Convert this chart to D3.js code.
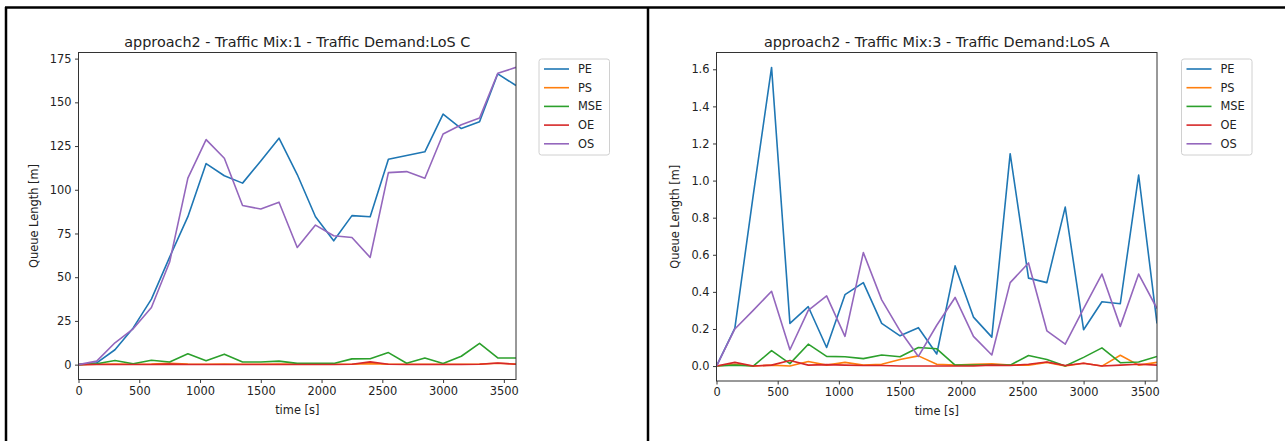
<!DOCTYPE html>
<html><head><meta charset="utf-8">
<script src="https://cdn.jsdelivr.net/npm/d3@7"></script>
<style>
html,body{margin:0;padding:0;background:#fff;}
svg{display:block;font-family:"DejaVu Sans",sans-serif;}
</style></head>
<body>
<svg id="chart" width="1287" height="441"></svg>
<script>
const times = [0,150,300,450,600,750,900,1050,1200,1350,1500,1650,1800,1950,2100,2250,2400,2550,2700,2850,3000,3150,3300,3450,3600];
const seriesNames = ["PE","PS","MSE","OE","OS"];
const seriesColors = ["#1f77b4","#ff7f0e","#2ca02c","#d62728","#9467bd"];

// Chart 1: Traffic Mix 1, LoS C
const title1 = "approach2 - Traffic Mix:1 - Traffic Demand:LoS C";
const pe1  = [0,1,8.5,21,37.5,61.5,84.6,115,108,103.8,116.5,129.5,108.7,84.6,70.8,85.2,84.6,117.5,119.6,121.7,143.3,135,138.9,166.3,159.6];
const ps1  = [0,0.2,0.3,0.2,0.3,0.8,0.3,0.2,0.3,0.2,0.2,0.4,0.2,0.2,0.2,0.2,0.6,0.2,0.2,0.2,0.2,0.2,0.3,0.8,0.3];
const mse1 = [0,0.5,2.4,0.5,2.5,1.5,6.2,2.2,6.0,1.5,1.5,2.0,0.7,0.7,0.7,3.3,3.4,6.9,0.8,3.8,0.7,4.8,12.2,3.8,3.8];
const oe1  = [0,0.1,0.1,0.1,0.1,0.3,0.1,0.1,0.1,0.1,0.1,0.1,0.1,0.1,0.1,0.2,1.6,0.2,0.1,0.1,0.1,0.1,0.2,0.9,0.2];
const os1  = [0,2,12.5,20.5,32.7,58.7,106.7,128.7,118,91,89,92.9,67,79.8,73.7,72.7,61.3,109.8,110.4,106.6,131.9,137.2,141,166.6,170];
const yTicks1 = [0,25,50,75,100,125,150,175];

// Chart 2: Traffic Mix 3, LoS A
const title2 = "approach2 - Traffic Mix:3 - Traffic Demand:LoS A";
const pe2  = [0,0.205,0.92,1.61,0.23,0.32,0.10,0.385,0.45,0.23,0.163,0.207,0.065,0.54,0.264,0.156,1.145,0.474,0.45,0.857,0.196,0.347,0.336,1.03,0.23];
const ps2  = [0,0.01,0.0,0.005,0.0,0.025,0.005,0.02,0.005,0.01,0.035,0.055,0.01,0.005,0.01,0.012,0.005,0.005,0.02,0.0,0.015,0.0,0.058,0.005,0.02];
const mse2 = [0,0.005,0.0,0.083,0.013,0.118,0.052,0.05,0.04,0.06,0.05,0.1,0.093,0.005,0.005,0.005,0.005,0.057,0.035,0.0,0.047,0.098,0.018,0.022,0.052];
const oe2  = [0,0.02,0.0,0.005,0.03,0.005,0.008,0.005,0.003,0.003,0.0,0.0,0.0,0.0,0.0,0.005,0.003,0.01,0.022,0.003,0.015,0.0,0.005,0.01,0.005];
const os2  = [0,0.2,0.3,0.403,0.088,0.3,0.378,0.16,0.612,0.357,0.19,0.052,0.22,0.37,0.16,0.06,0.45,0.556,0.19,0.118,0.31,0.496,0.214,0.496,0.31];
const yTicks2 = [0,0.2,0.4,0.6,0.8,1.0,1.2,1.4,1.6];

const xTicks = [0,500,1000,1500,2000,2500,3000,3500];
const xLabel = "time [s]";
const yLabel = "Queue Length [m]";

const svg = d3.select("#chart");

// panel borders
svg.append("line").attr("x1",5).attr("x2",1285).attr("y1",7.5).attr("y2",7.5).attr("stroke","#000").attr("stroke-width",2.5);
svg.append("line").attr("x1",6).attr("x2",6).attr("y1",7).attr("y2",441).attr("stroke","#000").attr("stroke-width",2.5);
svg.append("line").attr("x1",648).attr("x2",648).attr("y1",7).attr("y2",441).attr("stroke","#000").attr("stroke-width",2.5);

function drawChart(opt){
  const {left,right,top,bottom,title,series,yTicks,yDomain,yFmt,legendX,legendW,labelX} = opt;
  const g = svg.append("g");
  const x = d3.scaleLinear().domain([0,3600]).range([left,right]);
  const y = d3.scaleLinear().domain(yDomain).range([bottom,top]);

  const clipId = "clip"+Math.round(left);
  g.append("clipPath").attr("id",clipId).append("rect")
    .attr("x",left).attr("y",top).attr("width",right-left).attr("height",bottom-top);

  const line = d3.line().x((d,i)=>x(times[i])).y(d=>y(d));
  const lg = g.append("g").attr("clip-path",`url(#${clipId})`);
  series.forEach((s,k)=>{
    lg.append("path").datum(s).attr("d",line).attr("fill","none")
      .attr("stroke",seriesColors[k]).attr("stroke-width",1.6).attr("stroke-linejoin","round");
  });

  // axes
  const xAxis = d3.axisBottom(x).tickValues(xTicks).tickSize(3.5).tickPadding(3.5).tickFormat(d3.format("d"));
  const ax = g.append("g").attr("transform",`translate(0,${bottom})`).call(xAxis);
  const yAxis = d3.axisLeft(y).tickValues(yTicks).tickSize(3.5).tickPadding(3.5).tickFormat(yFmt);
  const ay = g.append("g").attr("transform",`translate(${left},0)`).call(yAxis);
  [ax,ay].forEach(a=>{
    a.select(".domain").remove();
    a.selectAll(".tick line").attr("stroke","#222").attr("stroke-width",0.9);
    a.selectAll(".tick text").attr("fill","#222").style("font-size","11.4px").style("font-family","DejaVu Sans");
  });

  // frame
  g.append("rect").attr("x",left).attr("y",top).attr("width",right-left).attr("height",bottom-top)
    .attr("fill","none").attr("stroke","#333").attr("stroke-width",1);

  // title & labels
  g.append("text").attr("x",(left+right)/2).attr("y",top-6).attr("text-anchor","middle")
    .attr("fill","#222").style("font-size","14.4px").text(title);
  g.append("text").attr("x",(left+right)/2).attr("y",bottom+34).attr("text-anchor","middle")
    .attr("fill","#222").style("font-size","11.4px").text(xLabel);
  g.append("text").attr("transform",`translate(${labelX},${(top+bottom)/2}) rotate(-90)`)
    .attr("text-anchor","middle").attr("dominant-baseline","middle")
    .attr("fill","#222").style("font-size","11.4px").text(yLabel);

  // legend
  const legTop = 59, rowH = 18.7;
  g.append("rect").attr("x",legendX).attr("y",legTop).attr("width",legendW).attr("height",96)
    .attr("rx",2.5).attr("fill","#fff").attr("stroke","#d0d0d0").attr("stroke-width",1);
  seriesNames.forEach((n,k)=>{
    const cy = legTop + 10 + k*rowH;
    g.append("line").attr("x1",legendX+5).attr("x2",legendX+30).attr("y1",cy).attr("y2",cy)
      .attr("stroke",seriesColors[k]).attr("stroke-width",1.6);
    g.append("text").attr("x",legendX+39).attr("y",cy).attr("dominant-baseline","central")
      .attr("fill","#222").style("font-size","11.4px").text(n);
  });
}

drawChart({left:78.5,right:516,top:52.5,bottom:379.5,title:title1,
  series:[pe1,ps1,mse1,oe1,os1],yTicks:yTicks1,yDomain:[-8.5,178.5],yFmt:d3.format("d"),
  legendX:539,legendW:70.5,labelX:34});
drawChart({left:716.5,right:1157,top:52.5,bottom:381,title:title2,
  series:[pe2,ps2,mse2,oe2,os2],yTicks:yTicks2,yDomain:[-0.0805,1.6905],yFmt:d3.format(".1f"),
  legendX:1181.5,legendW:70.5,labelX:675.5});
</script>
</body></html>
